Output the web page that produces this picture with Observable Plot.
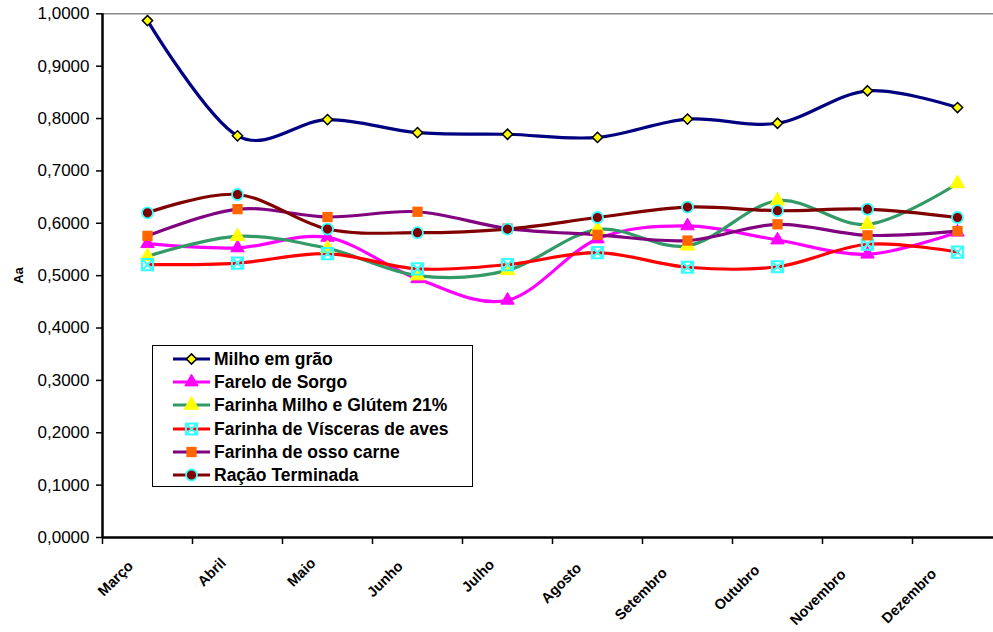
<!DOCTYPE html>
<html><head><meta charset="utf-8">
<script src="https://cdn.jsdelivr.net/npm/d3@7"></script>
<script src="https://cdn.jsdelivr.net/npm/@observablehq/plot@0.6"></script>
<style>
body{margin:0;background:#fff;font-family:"Liberation Sans",Arial,sans-serif;}
#wrap{position:relative;width:993px;height:632px;overflow:hidden;}
#legend{position:absolute;left:152px;top:345px;width:321px;height:142px;border:1.5px solid #000;background:#fff;box-sizing:border-box;}
.row{position:absolute;left:0;height:24px;display:flex;align-items:center;font-weight:bold;font-size:17.5px;white-space:nowrap;}
#ylab{position:absolute;left:10px;top:268px;transform:rotate(-90deg);font-weight:bold;font-size:13px;}
</style></head><body><div id="wrap"></div>
<script>
const months = ["Março","Abril","Maio","Junho","Julho","Agosto","Setembro","Outubro","Novembro","Dezembro"];
const yTicks = [0,0.1,0.2,0.3,0.4,0.5,0.6,0.7,0.8,0.9,1.0];
const names = ["Milho em grão","Farelo de Sorgo","Farinha Milho e Glútem 21%","Farinha de Vísceras de aves","Farinha de osso carne","Ração Terminada"];
const milhoGrao   = [0.987,0.767,0.798,0.773,0.770,0.764,0.799,0.791,0.853,0.821];
const fareloSorgo = [0.561,0.553,0.573,0.494,0.453,0.570,0.595,0.568,0.541,0.583];
const farinhaGlut = [0.537,0.575,0.552,0.500,0.510,0.588,0.557,0.643,0.598,0.676];
const visceras    = [0.521,0.524,0.542,0.513,0.521,0.544,0.516,0.517,0.560,0.545];
const ossoCarne   = [0.576,0.627,0.612,0.622,0.590,0.578,0.567,0.598,0.577,0.585];
const racao       = [0.620,0.655,0.589,0.582,0.589,0.611,0.631,0.624,0.627,0.611];

const seriesValues = [milhoGrao,fareloSorgo,farinhaGlut,visceras,ossoCarne,racao];
const lineColors = ["#000080","#FF00FF","#339966","#FF0000","#800080","#800000"];

const boxX = {draw(ctx, size){const s=Math.sqrt(size)/2; ctx.moveTo(-s,-s);ctx.lineTo(s,-s);ctx.lineTo(s,s);ctx.lineTo(-s,s);ctx.closePath();ctx.moveTo(-s,-s);ctx.lineTo(s,s);ctx.moveTo(s,-s);ctx.lineTo(-s,s);}};
const markerStyles = [
  {symbol:"diamond2", fill:"#FFFF00", stroke:"#000", strokeWidth:1.5, r:4.6},
  {symbol:"triangle", fill:"#FF00FF", stroke:"#FF00FF", strokeWidth:1, r:5},
  {symbol:"triangle", fill:"#FFFF00", stroke:"#FFFF00", strokeWidth:1, r:5.4},
  {symbol:boxX, fill:"none", stroke:"#33FFFF", strokeWidth:2, r:6.3},
  {symbol:"square", fill:"#FF6600", stroke:"none", strokeWidth:0, r:5.8},
  {symbol:"circle", fill:"#800000", stroke:"#33FFFF", strokeWidth:1.8, r:5.5}
];

const rows = [];
names.forEach((n,s)=>seriesValues[s].forEach((v,i)=>rows.push({series:n, s, i, v})));

const fmt = d => d3.format(".4f")(d).replace(".", ",");

// measure month label lengths to place rotated labels like the original
const FONT_PX = 14.5, LS = -0.9;
const ctx = document.createElement("canvas").getContext("2d");
ctx.font = `bold ${FONT_PX}px "Liberation Sans", Arial, sans-serif`;
const lens = months.map(m => ctx.measureText(m).width + LS*m.length);
const refLen = lens[1];

const marks = [
  Plot.ruleY([1], {stroke:"#888", strokeWidth:1.5}),
  Plot.axisY({ticks:yTicks, tickFormat:fmt, tickSize:6, tickPadding:7, fontSize:17, letterSpacing:"1.4px", label:null, stroke:"#000", strokeWidth:1.5, color:"#000"}),
  Plot.axisX({ticks:d3.range(-0.5,10,1), tickFormat:()=>"", tickSize:7, label:null, strokeWidth:1.5}),
  Plot.ruleX([-0.5], {stroke:"#000", strokeWidth:2.5, y1:0, y2:1}),
  Plot.ruleY([0], {stroke:"#000", strokeWidth:2.5})
];
months.forEach((m,i)=>{
  const extra = lens[i]-refLen;
  marks.push(Plot.text([i], {x:d=>d, y:()=>0, text:()=>m, rotate:-45, textAnchor:"end",
    fontWeight:"bold", fontSize:FONT_PX, letterSpacing:LS+"px",
    dx:-14 - 0.28*extra, dy:23 + 0.32*extra, fill:"#000"}));
});
names.forEach((n,s)=>{
  marks.push(Plot.line(rows.filter(d=>d.s===s), {x:"i", y:"v", stroke:lineColors[s], strokeWidth:3.2, curve:"cardinal"}));
});
names.forEach((n,s)=>{
  const m = markerStyles[s];
  marks.push(Plot.dot(rows.filter(d=>d.s===s), {x:"i", y:"v", symbol:()=>m.symbol, fill:m.fill, stroke:m.stroke, strokeWidth:m.strokeWidth, r:m.r}));
});

const chart = Plot.plot({
  width:993, height:632,
  marginLeft:102, marginRight:0, marginTop:13, marginBottom:95,
  x:{type:"linear", domain:[-0.5,9.5], range:[102,1002]},
  y:{domain:[0,1], range:[537,13.3]},
  symbol:{type:"identity"},
  style:{fontFamily:"'Liberation Sans', Arial, sans-serif", color:"#000", background:"#fff"},
  marks
});
const wrap = document.getElementById("wrap");
wrap.appendChild(chart);

const ylab = document.createElement("div");
ylab.id="ylab"; ylab.textContent="Aa";
wrap.appendChild(ylab);

// legend
const legend = document.createElement("div");
legend.id="legend";
wrap.appendChild(legend);
const rowTops = [1,24,47,71,94,117];
names.forEach((n,s)=>{
  const row = document.createElement("div");
  row.className="row"; row.style.top = rowTops[s]+"px";
  const svg = d3.create("svg").attr("width",60).attr("height",24);
  svg.append("line").attr("x1",20).attr("x2",57).attr("y1",12).attr("y2",12).attr("stroke",lineColors[s]).attr("stroke-width",3.2);
  const m = markerStyles[s];
  const size = Math.PI*m.r*m.r;
  const sym = typeof m.symbol === "string" ? {"diamond2":d3.symbolDiamond2,"triangle":d3.symbolTriangle,"square":d3.symbolSquare,"circle":d3.symbolCircle}[m.symbol] : m.symbol;
  svg.append("path").attr("transform","translate(38.5,12)").attr("d", d3.symbol(sym, size)()).attr("fill",m.fill).attr("stroke",m.stroke).attr("stroke-width",m.strokeWidth);
  row.appendChild(svg.node());
  const t = document.createElement("span"); t.textContent = n; t.style.marginLeft="1px";
  row.appendChild(t);
  legend.appendChild(row);
});
</script></body></html>
